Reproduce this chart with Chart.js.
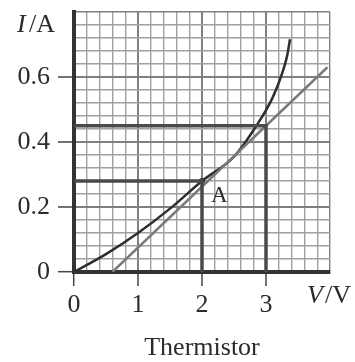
<!DOCTYPE html>
<html>
<head>
<meta charset="utf-8">
<script src="https://cdn.jsdelivr.net/npm/chart.js@4/dist/chart.umd.min.js"></script>
<style>
  body { margin: 0; background: #fff; }
  #wrap { width: 355px; height: 362px; }
</style>
</head>
<body>
<div id="wrap"><canvas id="grafico"></canvas></div>
<script>
// thermistor I-V curve
const curveV = [0, 0.5, 1, 1.5, 2, 2.5, 2.85, 3.1, 3.25, 3.33, 3.375]
const curveI = [0, 0.055, 0.12, 0.195, 0.28, 0.355, 0.45, 0.535, 0.61, 0.665, 0.716]
// straight line
const lineV = [0.6, 3.96]
const lineI = [0, 0.63]
// point A and the guide lines
const pointA = [2, 0.28]
const guideLowV = [0, 2, 2]
const guideLowI = [0.28, 0.28, 0]
const guideHighV = [0, 3, 3]
const guideHighI = [0.45, 0.45, 0]
// axes
const xLabels = [0, 1, 2, 3]
const yLabels = [0, 0.2, 0.4, 0.6]

const pts = (xs, ys) => xs.map((v, i) => ({ x: v, y: ys[i] }))
const near = (v, list) => list.some(t => Math.abs(v - t) < 1e-6)
const serif = '"Liberation Serif", "DejaVu Serif", serif'

const notes = {
  id: 'notes',
  afterDatasetsDraw(chart) {
    const { ctx, scales: { x, y }, chartArea } = chart
    ctx.save()
    ctx.fillStyle = '#2b2b2b'
    ctx.textBaseline = 'alphabetic'
    ctx.textAlign = 'left'
    // A label
    ctx.font = '23px ' + serif
    ctx.fillText('A', x.getPixelForValue(pointA[0]) + 9, y.getPixelForValue(pointA[1]) + 21)
    // I/A
    ctx.font = 'italic 26px ' + serif
    ctx.fillText('I', 17, 32)
    ctx.font = '26px ' + serif
    ctx.fillText('/A', 29, 32)
    // V/V
    ctx.font = 'italic 26px ' + serif
    ctx.fillText('V', 307, 303)
    ctx.font = '26px ' + serif
    ctx.fillText('/V', 325, 303)
    // caption
    ctx.textAlign = 'center'
    ctx.fillText('Thermistor', (chartArea.left + chartArea.right) / 2, 355)
    ctx.restore()
  }
}

document.addEventListener('DOMContentLoaded', () => {
  const ctx = document.getElementById('grafico')
  new Chart(ctx, {
    type: 'scatter',
    data: {
      datasets: [
        { data: pts(guideLowV, guideLowI), showLine: true, borderColor: '#4a4a4a', borderWidth: 3.5, pointRadius: 0 },
        { data: pts(guideHighV, guideHighI), showLine: true, borderColor: '#4a4a4a', borderWidth: 3.5, pointRadius: 0 },
        { data: pts(lineV, lineI), showLine: true, borderColor: '#7a7a7a', borderWidth: 2.5, pointRadius: 0 },
        { data: pts(curveV, curveI), showLine: true, borderColor: '#2e2e2e', borderWidth: 2.5, pointRadius: 0, cubicInterpolationMode: 'monotone' },
        { data: [{ x: pointA[0], y: pointA[1] }], pointRadius: 3, pointBackgroundColor: '#2e2e2e', pointBorderWidth: 0 }
      ]
    },
    options: {
      responsive: true,
      maintainAspectRatio: false,
      animation: false,
      layout: { padding: { left: 0, top: 12, right: 25, bottom: 0 } },
      plugins: { legend: { display: false }, tooltip: { enabled: false } },
      scales: {
        x: {
          type: 'linear',
          min: 0, max: 4,
          afterFit: s => { s.height = 90; s.paddingLeft = 0; s.paddingRight = 0 },
          ticks: {
            stepSize: 0.2, autoSkip: false, maxRotation: 0, padding: 4,
            color: '#2b2b2b', font: { family: serif, size: 26 },
            callback: v => near(v, xLabels) ? String(Math.round(v)) : ''
          },
          grid: {
            tickLength: 14,
            color: c => near(c.tick.value, [1, 2, 3, 4]) ? '#808080' : '#a0a0a0',
            lineWidth: c => near(c.tick.value, [1, 2, 3]) ? 2 : 1.4,
            tickColor: c => near(c.tick.value, xLabels) ? '#444' : 'rgba(0,0,0,0)',
            tickWidth: 1.5
          },
          border: { color: '#333', width: 4 }
        },
        y: {
          type: 'linear',
          min: 0, max: 0.8,
          afterFit: s => { s.width = 74; s.paddingTop = 0; s.paddingBottom = 0 },
          ticks: {
            stepSize: 0.04, autoSkip: false, padding: 8,
            color: '#2b2b2b', font: { family: serif, size: 26 },
            callback: v => near(v, yLabels) ? (v === 0 ? '0' : (Math.round(v * 10) / 10).toFixed(1)) : ''
          },
          grid: {
            tickLength: 16,
            color: c => near(c.tick.value, [0.2, 0.4, 0.6, 0.8]) ? '#808080' : '#a0a0a0',
            lineWidth: c => near(c.tick.value, [0.2, 0.4, 0.6]) ? 2 : 1.4,
            tickColor: c => near(c.tick.value, yLabels) ? '#444' : 'rgba(0,0,0,0)',
            tickWidth: 1.5
          },
          border: { color: '#333', width: 4 }
        }
      }
    },
    plugins: [notes]
  })
})
</script>
</body>
</html>
